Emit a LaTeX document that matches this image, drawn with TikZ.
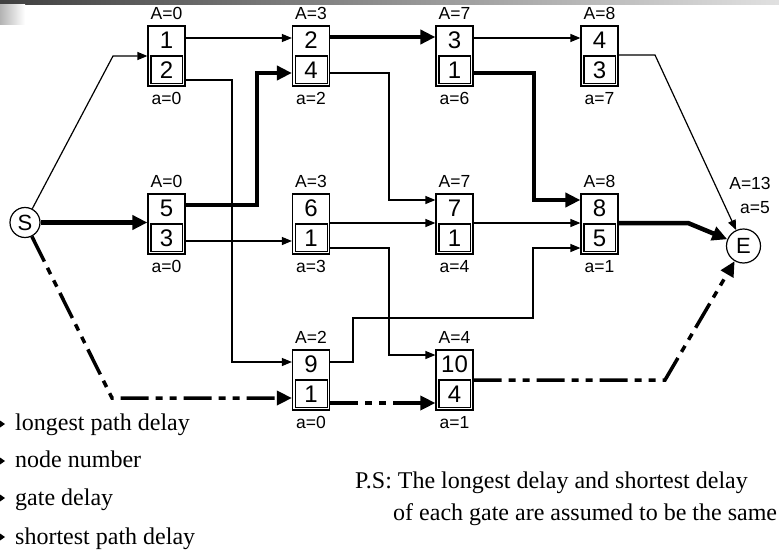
\documentclass[tikz,border=0pt]{standalone}
\usepackage{fontspec}
\setmainfont{Liberation Serif}
\newfontfamily\arialf{Liberation Sans}
\usetikzlibrary{arrows.meta,calc}
\newcommand\gatenode[7]{%
  \node[gatebox] (#1) at (#2,#3) {};
  \draw[line width=1.2pt] ($(#1.south west)+(3.5,-3)$) rectangle ($(#1.east)+(-3,0)$);
  \node[numtxt] (#1u) at ($(#1.north)+(0,15)$) {#4};
  \node[numtxt] (#1l) at ($(#1.south)+(0,-16)$) {#5};
  \node[lbltxt] (#1A) at ($(#1.north)+(0,-12)$) {A=#6};
  \node[lbltxt] (#1a) at ($(#1.south)+(0,12)$) {a=#7};
}
\begin{document}
\begin{tikzpicture}[x=1pt,y=-1pt,
  gatebox/.style={draw, line width=1.2pt, minimum width=37pt, minimum height=60pt, inner sep=0pt},
  numtxt/.style={font=\arialf\fontsize{24}{24}\selectfont, inner sep=0pt},
  lbltxt/.style={font=\arialf\fontsize{17.5}{17.5}\selectfont, inner sep=0pt},
  endpt/.style={circle, draw, line width=1.2pt, inner sep=0pt, font=\arialf\fontsize{22}{22}\selectfont},
  thinln/.style={line width=1.2pt, -{Triangle[length=10pt,width=8pt]}},
  thickln/.style={line width=4.5pt, -{Triangle[length=15pt,width=14pt]}},
  ddln/.style={line width=3.5pt, dash pattern=on 28pt off 7pt on 7pt off 7pt on 7pt off 7pt, -{Triangle[length=15pt,width=14pt]}},
  serift/.style={font=\fontsize{24}{24}\selectfont, inner sep=0pt, anchor=base west},
]
\useasboundingbox (0,0) rectangle (779,551);
% decoration
\shade[left color=black!75, right color=black!12] (0,0) rectangle (779,5);
\shade[left color=black!30, right color=white] (0,5) rectangle (25,25);

% nodes
\node[endpt, minimum size=30pt] (S) at (25,222.5) {S};
\node[endpt, minimum size=34pt] (E) at (743.5,246) {E};
\node[lbltxt] (EA) at (750,183) {A=13};
\node[lbltxt] (Ea) at (755,207.5) {a=5};

\gatenode{n1}{166.5}{56}{1}{2}{0}{0}
\gatenode{n2}{311}{56}{2}{4}{3}{2}
\gatenode{n3}{454.5}{56}{3}{1}{7}{6}
\gatenode{n4}{599.5}{56}{4}{3}{8}{7}
\gatenode{n5}{166.5}{224}{5}{3}{0}{0}
\gatenode{n6}{311}{224}{6}{1}{3}{3}
\gatenode{n7}{454.5}{224}{7}{1}{7}{4}
\gatenode{n8}{599.5}{224}{8}{5}{8}{1}
\gatenode{n9}{311}{380}{9}{1}{2}{0}
\gatenode{n10}{454.5}{380}{10}{4}{4}{1}

% connectors
\draw[thinln] (S) -- (113,56) -- (n1.west);
\draw[thickln] (S) -- (n5.west |- S);
\draw[ddln] (S) -- (112,398) -- (n9.west |- 0,398);

\draw[thinln] (n1.east |- 0,38) -- (n2.west |- 0,38);
\draw[thinln] (n1.east |- 0,80) -- (232,80) -- (232,362) -- (n9.west |- 0,362);
\draw[thickln] (n5.east |- 0,205) -- (257,205) -- (257,73) -- (n2.west |- 0,73);
\draw[thinln] (n5.east |- 0,241) -- (n6.west |- 0,241);

\draw[thickln] (n2.east |- 0,37) -- (n3.west |- 0,37);
\draw[thinln] (n2.east |- 0,73) -- (389,73) -- (389,200) -- (n7.west |- 0,200);
\draw[thinln] (n6.east |- 0,223) -- (n7.west |- 0,223);
\draw[thinln] (n6.east |- 0,248) -- (389,248) -- (389,355) -- (n10.west |- 0,355);
\draw[thinln] (n9.east |- 0,362) -- (353,362) -- (353,318) -- (533,318) -- (533,248) -- (n8.west |- 0,248);
\draw[ddln] (n9.east |- 0,403) -- (n10.west |- 0,403);

\draw[thinln] (n3.east |- 0,38) -- (n4.west |- 0,38);
\draw[thickln] (n3.east |- 0,73) -- (534,73) -- (534,200) -- (n8.west |- 0,200);
\draw[thinln] (n7.east |- 0,223) -- (n8.west |- 0,223);
\draw[ddln] (n10.east |- 0,380) -- (665,380) -- (E);

\draw[thinln] (n4.east |- 0,55) -- (655,55) -- (E);
\draw[thickln] (n8.east |- 0,223) -- (688,223) -- (E);

% legend
\foreach \yy in {424,461,498,537} \fill (0,\yy-3.5) -- (5,\yy) -- (0,\yy+3.5) -- cycle;
\node[serift] (L1) at (15,430) {longest path delay};
\node[serift] (L2) at (15,467) {node number};
\node[serift] (L3) at (15,505) {gate delay};
\node[serift] (L4) at (15,544) {shortest path delay};
\node[serift] (P1) at (355,488) {P.S: The longest delay and shortest delay};
\node[serift] (P2) at (393,520) {of each gate are assumed to be the same};
\end{tikzpicture}
\end{document}
